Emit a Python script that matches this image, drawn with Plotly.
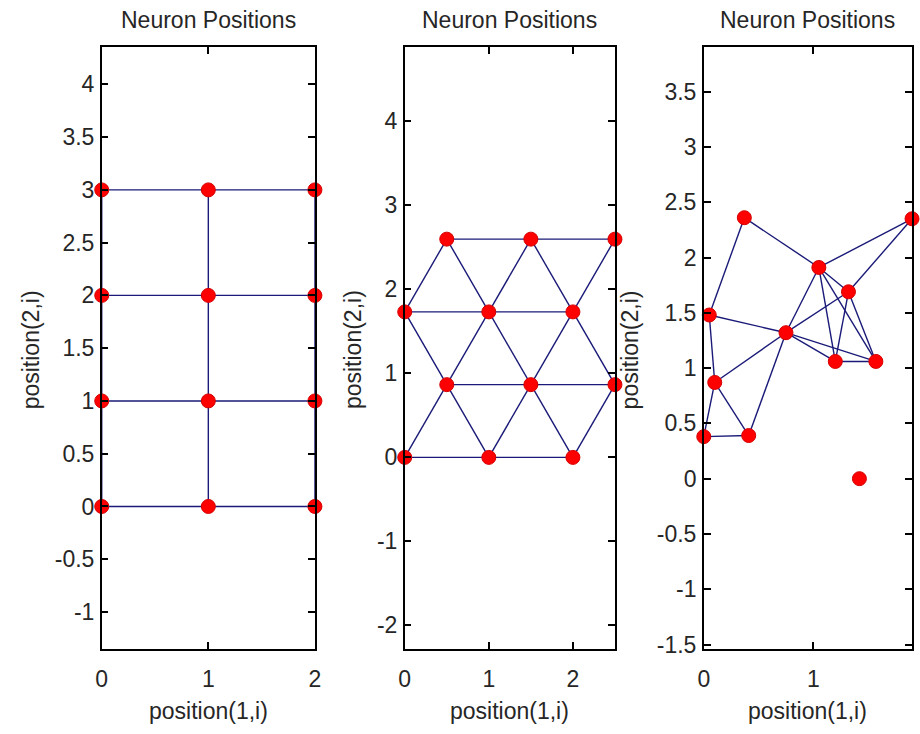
import plotly.graph_objects as go

# ---- data ----
titles = ["Neuron Positions", "Neuron Positions", "Neuron Positions"]
x_label = "position(1,i)"
y_label = "position(2,i)"

grid_x = [0, 1, 2, 0, 1, 2, 0, 1, 2, 0, 1, 2]
grid_y = [0, 0, 0, 1, 1, 1, 2, 2, 2, 3, 3, 3]
grid_links = [(0, 1), (1, 2), (3, 4), (4, 5), (6, 7), (7, 8), (9, 10), (10, 11),
              (0, 3), (3, 6), (6, 9), (1, 4), (4, 7), (7, 10), (2, 5), (5, 8), (8, 11)]

hex_x = [0, 1, 2, 0.5, 1.5, 2.5, 0, 1, 2, 0.5, 1.5, 2.5]
hex_y = [0, 0, 0, 0.866, 0.866, 0.866, 1.732, 1.732, 1.732, 2.598, 2.598, 2.598]
hex_links = [(0, 1), (1, 2), (3, 4), (4, 5), (6, 7), (7, 8), (9, 10), (10, 11),
             (0, 3), (1, 3), (1, 4), (2, 4), (2, 5),
             (3, 6), (3, 7), (4, 7), (4, 8), (5, 8),
             (6, 9), (7, 9), (7, 10), (8, 10), (8, 11)]

rand_x = [0.0, 0.05, 0.10, 0.37, 0.41, 0.75, 1.05, 1.32, 1.20, 1.57, 1.42, 1.90]
rand_y = [0.38, 1.48, 0.87, 2.36, 0.39, 1.32, 1.91, 1.69, 1.06, 1.06, 0.0, 2.35]
rand_links = [(0, 4), (0, 2), (1, 2), (1, 3), (1, 5), (2, 5), (2, 4), (4, 5),
              (3, 6), (5, 6), (5, 7), (5, 8), (5, 9), (6, 7), (6, 8), (6, 9),
              (6, 11), (7, 11), (7, 8), (7, 9), (8, 9)]

x_ranges = [[0, 2], [0, 2.5], [0, 1.9]]
y_ranges = [[-1.35, 4.35], [-2.28, 4.88], [-1.54, 3.9]]
x_ticks = [[0, 1, 2], [0, 1, 2], [0, 1]]
x_tick_text = [["0", "1", "2"], ["0", "1", "2"], ["0", "1"]]
y_ticks = [[-1, -0.5, 0, 0.5, 1, 1.5, 2, 2.5, 3, 3.5, 4],
           [-2, -1, 0, 1, 2, 3, 4],
           [-1.5, -1, -0.5, 0, 0.5, 1, 1.5, 2, 2.5, 3, 3.5]]
y_tick_text = [["-1", "-0.5", "0", "0.5", "1", "1.5", "2", "2.5", "3", "3.5", "4"],
               ["-2", "-1", "0", "1", "2", "3", "4"],
               ["-1.5", "-1", "-0.5", "0", "0.5", "1", "1.5", "2", "2.5", "3", "3.5"]]

panels = [(grid_x, grid_y, grid_links), (hex_x, hex_y, hex_links), (rand_x, rand_y, rand_links)]

# ---- layout geometry (pixels) ----
W, H = 920, 734
x_doms_px = [(97, 313), (404, 617), (707, 918)]
y_dom_px = (48, 657)
ylab_x_px = [25, 351, 632]

FONT = "Liberation Sans, Arial, sans-serif"
FS = 23
TXT = "#262626"
LINE_COL = "#1a1a78"

fig = go.Figure()
for i, (px, py, links) in enumerate(panels):
    sfx = "" if i == 0 else str(i + 1)
    lx, ly = [], []
    for a, b in links:
        lx += [px[a], px[b], None]
        ly += [py[a], py[b], None]
    fig.add_trace(go.Scatter(x=lx, y=ly, mode="lines", xaxis="x" + sfx, yaxis="y" + sfx,
                             line=dict(color=LINE_COL, width=1.4), hoverinfo="skip",
                             showlegend=False, cliponaxis=False))
    fig.add_trace(go.Scatter(x=px, y=py, mode="markers", xaxis="x" + sfx, yaxis="y" + sfx,
                             marker=dict(color="#ff0000", size=14,
                                         line=dict(color="#d40000", width=1)),
                             showlegend=False, cliponaxis=False))

layout = dict(width=W, height=H, margin=dict(l=0, r=0, t=0, b=0),
              paper_bgcolor="white", plot_bgcolor="white",
              font=dict(family=FONT, size=FS, color=TXT))
annotations = []
yd = [1 - y_dom_px[1] / H, 1 - y_dom_px[0] / H]
for i in range(3):
    sfx = "" if i == 0 else str(i + 1)
    xd = [x_doms_px[i][0] / W, x_doms_px[i][1] / W]
    axcommon = dict(showgrid=False, zeroline=False, showline=True, linecolor="black",
                    linewidth=1.5, mirror="ticks", ticks="inside", ticklen=7,
                    tickcolor="black", tickwidth=1.5, tickfont=dict(size=FS, color=TXT))
    layout["xaxis" + sfx] = dict(domain=xd, range=x_ranges[i], tickmode="array",
                                 tickvals=x_ticks[i], ticktext=x_tick_text[i],
                                 anchor="y" + sfx, ticklabelstandoff=9, **axcommon)
    layout["yaxis" + sfx] = dict(domain=yd, range=y_ranges[i], tickmode="array",
                                 tickvals=y_ticks[i], ticktext=y_tick_text[i],
                                 anchor="x" + sfx, ticklabelstandoff=1, **axcommon)
    cx = (x_doms_px[i][0] + x_doms_px[i][1]) / 2 / W
    annotations.append(dict(text=titles[i], x=cx, y=1 - 20 / H, xref="paper", yref="paper",
                            showarrow=False, xanchor="center", yanchor="middle",
                            font=dict(size=FS, color=TXT)))
    annotations.append(dict(text=x_label, x=cx, y=1 - 720 / H, xref="paper", yref="paper",
                            showarrow=False, xanchor="center", yanchor="middle",
                            font=dict(size=FS, color=TXT)))
    annotations.append(dict(text=y_label, x=ylab_x_px[i] / W, y=1 - 354 / H,
                            xref="paper", yref="paper", textangle=-90,
                            showarrow=False, xanchor="center", yanchor="middle",
                            font=dict(size=FS, color=TXT)))
layout["annotations"] = annotations
fig.update_layout(**layout)
fig.write_html("out.html")
